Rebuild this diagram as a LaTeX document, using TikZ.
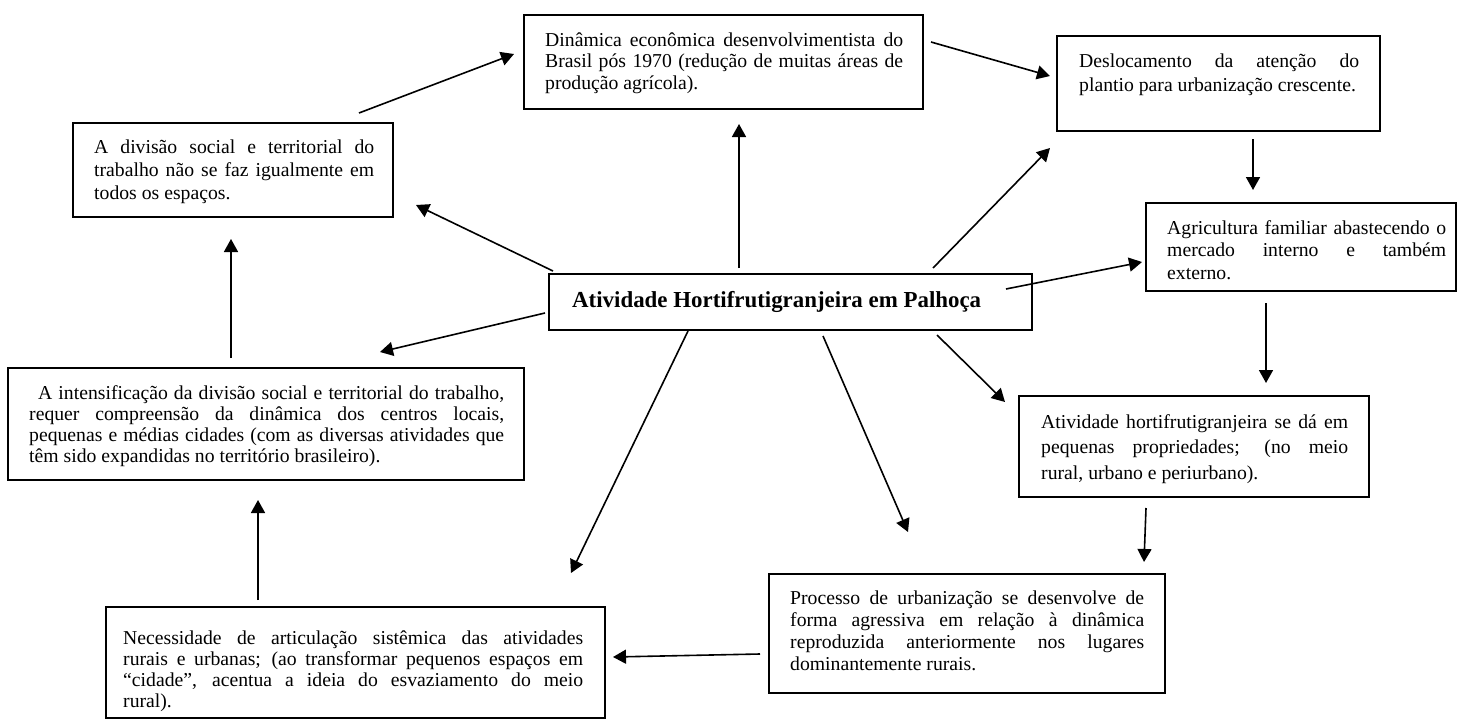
\documentclass[tikz,border=0pt]{standalone}
\usepackage{fontspec}
\setmainfont{Liberation Serif}
\usetikzlibrary{arrows.meta,calc,positioning}
\newcommand{\mapfont}[1]{\fontsize{19.7}{#1}\selectfont}
\newcommand{\jl}[1]{\makebox[\twidth][s]{\spaceskip=0pt\xspaceskip=0pt #1}\\}
\newcommand{\lastl}[1]{\mbox{\spaceskip=0pt\xspaceskip=0pt #1}}

\begin{document}
\begin{tikzpicture}[x=1pt,y=-1pt,>={Triangle[length=13pt,width=14pt]},
  frame/.style={draw,line width=1.3pt,inner sep=0pt,outer sep=0pt,anchor=north west},
  txt/.style={anchor=base west,inner sep=0pt,align=left,text width=#1,
    execute at begin node={\def\twidth{#1}}},
  title/.style={anchor=base west,inner sep=0pt,font=\fontsize{22.9}{27}\selectfont\bfseries},
  arr/.style={->,line width=1.6pt}]
\useasboundingbox (0,0) rectangle (1459,720);
% frames
\node[frame,minimum width=320,minimum height=94] (divisao) at (73,123) {};
\node[frame,minimum width=399,minimum height=94] (dinamica) at (524,15) {};
\node[frame,minimum width=323,minimum height=95] (desl) at (1057,36) {};
\node[frame,minimum width=310,minimum height=88] (agric) at (1146,203) {};
\node[frame,line width=2.6pt,minimum width=483,minimum height=56] (centre) at (549,274) {};
\node[frame,minimum width=516,minimum height=112] (intens) at (8,368) {};
\node[frame,minimum width=350,minimum height=101] (ativhort) at (1019,396) {};
\node[frame,minimum width=396,minimum height=119] (processo) at (769,574) {};
\node[frame,minimum width=499,minimum height=111] (necess) at (106,607) {};
% texts
\node[txt=280pt,font=\mapfont{23}] (divisao-t) at ($(divisao.north west)+(21,30)$)
  {\jl{A divisão social e territorial do}\jl{trabalho não se faz igualmente em}\lastl{todos os espaços.}};
\node[txt=358pt,font=\mapfont{21.5}] (dinamica-t) at ($(dinamica.north west)+(21,31)$)
  {\jl{Dinâmica econômica desenvolvimentista do}\jl{Brasil pós 1970 (redução de muitas áreas de}\lastl{produção agrícola).}};
\node[txt=280pt,font=\mapfont{24}] (desl-t) at ($(desl.north west)+(22,31)$)
  {\jl{Deslocamento da atenção do}\lastl{plantio para urbanização crescente.}};
\node[txt=279pt,font=\mapfont{22.5}] (agric-t) at ($(agric.north west)+(21,31)$)
  {\jl{Agricultura familiar abastecendo o}\jl{mercado interno e também}\lastl{externo.}};
\node[title] (centre-t) at ($(centre.north west)+(23,33)$)
  {\lastl{Atividade Hortifrutigranjeira em Palhoça}};
\node[txt=475pt,font=\mapfont{21.3}] (intens-t) at ($(intens.north west)+(21,31)$)
  {\jl{\hspace{9pt}A intensificação da divisão social e territorial do trabalho,}\jl{requer compreensão da dinâmica dos centros locais,}\jl{pequenas e médias cidades (com as diversas atividades que}\lastl{têm sido expandidas no território brasileiro).}};
\node[txt=307pt,font=\mapfont{25.5}] (ativhort-t) at ($(ativhort.north west)+(22,32)$)
  {\jl{Atividade hortifrutigranjeira se dá em}\jl{pequenas propriedades; (no meio}\lastl{rural, urbano e periurbano).}};
\node[txt=354pt,font=\mapfont{22.3}] (processo-t) at ($(processo.north west)+(21,30)$)
  {\jl{Processo de urbanização se desenvolve de}\jl{forma agressiva em relação à dinâmica}\jl{reproduzida anteriormente nos lugares}\lastl{dominantemente rurais.}};
\node[txt=460pt,font=\mapfont{21.3}] (necess-t) at ($(necess.north west)+(17,37)$)
  {\jl{Necessidade de articulação sistêmica das atividades}\jl{rurais e urbanas; (ao transformar pequenos espaços em}\jl{“cidade”, acentua a ideia do esvaziamento do meio}\lastl{rural).}};
% outer cycle
\draw[arr] ($(divisao.north west)+(286,-10)$) -- ($(dinamica.north west)+(-10,39)$);
\draw[arr] ($(dinamica.north west)+(407,27)$) -- ($(desl.north west)+(-7,40)$);
\draw[arr] ($(desl.north west)+(196,103)$) -- ($(agric.north west)+(107,-13)$);
\draw[arr] ($(agric.north west)+(120,100)$) -- ($(ativhort.north west)+(247,-13)$);
\draw[arr] ($(ativhort.north west)+(127,112)$) -- ($(processo.north west)+(375,-12)$);
\draw[arr] ($(processo.north west)+(-9,80)$) -- ($(necess.north west)+(507,50)$);
\draw[arr] ($(necess.north west)+(152,-7)$) -- ($(intens.north west)+(250,132)$);
\draw[arr] ($(intens.north west)+(223,-10)$) -- ($(divisao.north west)+(158,116)$);
% spokes from the centre
\draw[arr] ($(centre.north west)+(190,-6)$) -- ($(dinamica.north west)+(215,109)$);
\draw[arr] ($(centre.north west)+(4,-3)$) -- ($(divisao.north west)+(343,82)$);
\draw[arr] ($(centre.north west)+(-4,39)$) -- ($(intens.north west)+(372,-16)$);
\draw[arr] ($(centre.north west)+(139,57)$) -- ($(necess.north west)+(465,-34)$);
\draw[arr] ($(centre.north west)+(274,62)$) -- ($(processo.north west)+(139,-42)$);
\draw[arr] ($(centre.north west)+(388,61)$) -- ($(ativhort.north west)+(-14,6)$);
\draw[arr] ($(centre.north west)+(457,15)$) -- ($(agric.north west)+(-4,59)$);
\draw[arr] ($(centre.north west)+(384,-6)$) -- ($(desl.north west)+(-7,112)$);
\end{tikzpicture}
\end{document}
